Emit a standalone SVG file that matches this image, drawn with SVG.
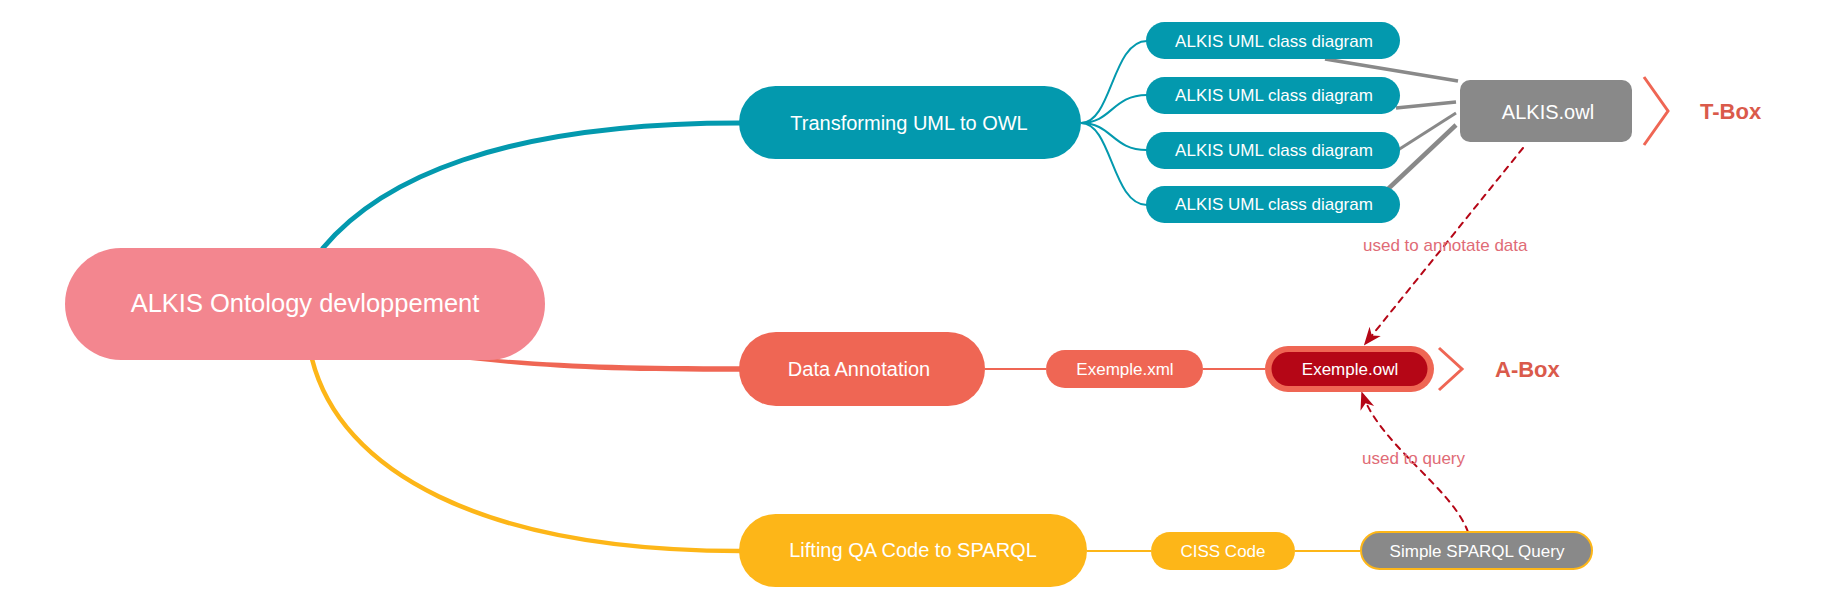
<svg xmlns="http://www.w3.org/2000/svg" width="1838" height="610" viewBox="0 0 1838 610">
<style>
text{font-family:"Liberation Sans",Arial,Helvetica,sans-serif;fill:#fff;text-anchor:middle}
.t1{font-size:20px}
.t2{font-size:17px}
.lab{font-size:17px;fill:#E06B76;text-anchor:start}
.box{font-size:22px;font-weight:bold;fill:#DA5A4B;text-anchor:start}
.teal{fill:#0399AE}.coral{fill:#EF6654}.yel{fill:#FDB618}.gray{fill:#898989}
.c{fill:none;stroke-linecap:round}
</style>
<defs>
<marker id="arr" viewBox="0 0 20 20" refX="18" refY="10" markerWidth="18" markerHeight="18" markerUnits="userSpaceOnUse" orient="auto">
<path d="M0,2 L20,10 L0,18 L6,10 z" fill="#B50616"/>
</marker>
</defs>
<g id="connectors">
<path class="c" d="M323,248 C380,180 500,123 740,123" stroke="#0399AE" stroke-width="5"/>
<path d="M470,357 C560,364 620,366.3 740,366.3 L740,371.7 C620,371.7 560,369.5 470,360 z" fill="#EF6654"/>
<path class="c" d="M312,359 C340,470 480,551 740,551" stroke="#FDB618" stroke-width="4.5"/>
<g stroke="#0399AE" stroke-width="2" fill="none">
<path d="M1081,123 C1112,123 1112,41 1147,41"/>
<path d="M1081,123 C1112,123 1112,95 1147,95"/>
<path d="M1081,123 C1112,123 1112,150 1147,150"/>
<path d="M1081,123 C1112,123 1112,205 1147,205"/>
</g>
<path d="M985,369 H1046 M1203,369 H1265" stroke="#EF6654" stroke-width="2"/>
<path d="M1087,551 H1151 M1295,551 H1360" stroke="#FDB618" stroke-width="2"/>
<g stroke="#898989" stroke-linecap="butt">
<line x1="1325" y1="59" x2="1458" y2="81" stroke-width="3.5"/>
<line x1="1396" y1="108" x2="1456" y2="102" stroke-width="3.5"/>
<line x1="1398" y1="150" x2="1456" y2="113" stroke-width="3"/>
<line x1="1388" y1="189" x2="1456" y2="125" stroke-width="4.5"/>
</g>
<path class="c" d="M1523,148 L1365,344" stroke="#B50616" stroke-width="2" stroke-dasharray="6 6" marker-end="url(#arr)"/>
<path class="c" d="M1468,532 C1452,488 1380,445 1362,393" stroke="#B50616" stroke-width="2" stroke-dasharray="6 6" marker-end="url(#arr)"/>
<text class="lab" x="1363" y="251">used to annotate data</text>
<text class="lab" x="1362" y="464">used to query</text>
</g>
<g id="root">
<rect x="65" y="248" width="480" height="112" rx="56" fill="#F3868F"/>
<text x="305" y="312" style="font-size:25.5px">ALKIS Ontology devloppement</text>
</g>
<g id="transforming">
<rect class="teal" x="739" y="86" width="342" height="73" rx="36.5"/>
<text class="t1" x="909" y="130">Transforming UML to OWL</text>
</g>
<g id="annotation">
<rect class="coral" x="739" y="332" width="246" height="74" rx="37"/>
<text class="t1" x="859" y="376">Data Annotation</text>
</g>
<g id="lifting">
<rect class="yel" x="739" y="514" width="348" height="73" rx="36.5"/>
<text class="t1" x="913" y="557">Lifting QA Code to SPARQL</text>
</g>
<g id="uml1">
<rect class="teal" x="1146" y="22" width="254" height="37" rx="18.5"/>
<text class="t2" x="1274" y="47">ALKIS UML class diagram</text>
</g>
<g id="uml2">
<rect class="teal" x="1146" y="77" width="254" height="37" rx="18.5"/>
<text class="t2" x="1274" y="101">ALKIS UML class diagram</text>
</g>
<g id="uml3">
<rect class="teal" x="1146" y="132" width="254" height="37" rx="18.5"/>
<text class="t2" x="1274" y="156">ALKIS UML class diagram</text>
</g>
<g id="uml4">
<rect class="teal" x="1146" y="186" width="254" height="37" rx="18.5"/>
<text class="t2" x="1274" y="210">ALKIS UML class diagram</text>
</g>
<g id="alkisowl">
<rect class="gray" x="1460" y="80" width="172" height="62" rx="10"/>
<text class="t1" x="1548" y="119">ALKIS.owl</text>
</g>
<g id="tbox">
<polyline points="1644,77 1668,111 1644,145" fill="none" stroke="#EF6654" stroke-width="3"/>
<text class="box" x="1700" y="119">T-Box</text>
</g>
<g id="exemplexml">
<rect class="coral" x="1046" y="350" width="157" height="38" rx="19"/>
<text class="t2" x="1125" y="375">Exemple.xml</text>
</g>
<g id="exempleowl">
<rect class="coral" x="1265" y="346" width="169" height="46" rx="23"/>
<rect x="1271.5" y="352" width="156" height="34" rx="17" fill="#B50616"/>
<text class="t2" x="1350" y="375">Exemple.owl</text>
</g>
<g id="abox">
<polyline points="1439,348 1462,369 1439,390" fill="none" stroke="#EF6654" stroke-width="3"/>
<text class="box" x="1495" y="377">A-Box</text>
</g>
<g id="ciss">
<rect class="yel" x="1151" y="532" width="144" height="38" rx="19"/>
<text class="t2" x="1223" y="557">CISS Code</text>
</g>
<g id="sparql">
<rect class="gray" x="1361" y="532" width="231" height="37" rx="18.5" stroke="#FDB618" stroke-width="2"/>
<text class="t2" x="1477" y="557">Simple SPARQL Query</text>
</g>
</svg>
